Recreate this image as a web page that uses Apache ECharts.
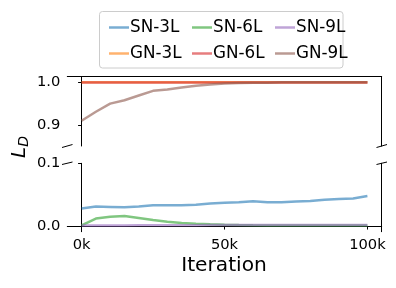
<!DOCTYPE html>
<html><head><meta charset="utf-8">
<script src="https://cdn.jsdelivr.net/npm/echarts@6/dist/echarts.min.js"></script>
<style>html,body{margin:0;padding:0;background:#fff}#c{width:396px;height:288px}</style>
</head><body><div id="c"></div>
<script>
// ---- data ----
const iterations = [0,5000,10000,15000,20000,25000,30000,35000,40000,45000,50000,55000,60000,65000,70000,75000,80000,85000,90000,95000,100000];
const sn3 = [0.028,0.031,0.0305,0.030,0.031,0.033,0.033,0.033,0.034,0.036,0.037,0.038,0.0395,0.038,0.038,0.039,0.040,0.042,0.043,0.044,0.048];
const sn6 = [0.001,0.012,0.015,0.016,0.013,0.0095,0.007,0.005,0.0035,0.0027,0.002,0.0015,0.0012,0.001,0.0009,0.0008,0.0008,0.0008,0.0008,0.0008,0.0008];
const sn9 = [0.0008,0.0009,0.001,0.001,0.0011,0.0012,0.0013,0.0014,0.0014,0.0015,0.0015,0.0015,0.0015,0.0015,0.0015,0.0015,0.0015,0.0015,0.0015,0.0015,0.0015];
const gn3 = [1.0,1.0,1.0,1.0,1.0,1.0,1.0,1.0,1.0,1.0,1.0,1.0,1.0,1.0,1.0,1.0,1.0,1.0,1.0,1.0,1.0];
const gn6 = [0.9995,0.9995,0.9995,0.9995,0.9995,0.9995,0.9995,0.9995,0.9995,0.9995,0.9995,0.9995,0.9995,0.9995,0.9995,0.9995,0.9995,0.9995,0.9995,0.9995,0.9995];
const gn9 = [0.910,0.931,0.950,0.958,0.969,0.980,0.983,0.988,0.992,0.995,0.997,0.998,0.999,0.999,1.0,1.0,1.0,1.0,1.0,1.0,1.0];
const xTicks = [0,50000,100000];
const topTicks = [0.9,1.0];
const botTicks = [0.0,0.1];

const FONT = 'DejaVu Sans';
const TICK_FS = 14.7;
const colors = {
  'SN-3L':'rgba(31,119,180,0.6)', 'GN-3L':'rgba(255,127,14,0.6)',
  'SN-6L':'rgba(44,160,44,0.6)',  'GN-6L':'rgba(214,39,40,0.6)',
  'SN-9L':'rgba(148,103,189,0.6)','GN-9L':'rgba(140,86,75,0.6)'
};
const G = {left:67.3, right:14.3, topT:76.7, hT:69.3, topB:163.3, hB:68.4};

function pairs(ys){ return iterations.map((x,i)=>[x,ys[i]]); }
function line(name, ys, gi){
  return {name, type:'line', data:pairs(ys), xAxisIndex:gi, yAxisIndex:gi*2,
    showSymbol:false, symbol:'none', color:colors[name], clip:true,
    lineStyle:{width:2.5, color:colors[name]}};
}
const axLine = {show:true, lineStyle:{color:'#000', width:1}};
const xBase = {type:'value', min:-5000, max:105000, splitLine:{show:false}};
const tickFmt = v => v.toFixed(1);

const chart = echarts.init(document.getElementById('c'), null, {renderer:'canvas'});
const legendCommon = {orient:'vertical', icon:'rect', itemWidth:20, itemHeight:2.5, itemGap:9,
  textStyle:{fontFamily:FONT, fontSize:16.8, color:'#000', padding:[0,0,0,-4]}, selectedMode:false};
chart.setOption({
  animation:false,
  backgroundColor:'#fff',
  grid:[
    {left:G.left, right:G.right, top:G.topT, height:G.hT},
    {left:G.left, right:G.right, top:G.topB, height:G.hB}
  ],
  xAxis:[
    Object.assign({gridIndex:0, position:'top', axisLine:axLine, axisTick:{show:false}, axisLabel:{show:false}}, xBase),
    Object.assign({gridIndex:1, position:'bottom', axisLine:axLine,
      axisTick:{show:true, length:3.5, lineStyle:{color:'#000'}, customValues:xTicks},
      axisLabel:{margin:6, fontFamily:FONT, fontSize:TICK_FS, color:'#000', customValues:xTicks, formatter:v=>(v/1000)+'k'}}, xBase)
  ],
  yAxis:[
    {type:'value', gridIndex:0, min:0.851, max:1.013, position:'left', axisLine:axLine, splitLine:{show:false},
      axisTick:{show:true, length:3.5, lineStyle:{color:'#000'}, customValues:topTicks},
      axisLabel:{margin:7, fontFamily:FONT, fontSize:TICK_FS, color:'#000', customValues:topTicks, formatter:tickFmt}},
    {type:'value', gridIndex:0, min:0.851, max:1.013, position:'right', axisLine:axLine, splitLine:{show:false},
      axisTick:{show:false}, axisLabel:{show:false}},
    {type:'value', gridIndex:1, min:-0.009, max:0.1, position:'left', axisLine:axLine, splitLine:{show:false},
      axisTick:{show:true, length:3.5, lineStyle:{color:'#000'}, customValues:botTicks},
      axisLabel:{margin:7, fontFamily:FONT, fontSize:TICK_FS, color:'#000', customValues:botTicks, formatter:tickFmt}},
    {type:'value', gridIndex:1, min:-0.009, max:0.1, position:'right', axisLine:axLine, splitLine:{show:false},
      axisTick:{show:false}, axisLabel:{show:false}}
  ],
  legend:[
    Object.assign({left:104, top:14, data:['SN-3L','GN-3L']}, legendCommon),
    Object.assign({left:187, top:14, data:['SN-6L','GN-6L']}, legendCommon),
    Object.assign({left:270, top:14, data:['SN-9L','GN-9L']}, legendCommon)
  ],
  series:[
    line('SN-3L', sn3, 1), line('GN-3L', gn3, 0),
    line('SN-6L', sn6, 1), line('GN-6L', gn6, 0),
    line('SN-9L', sn9, 1), line('GN-9L', gn9, 0)
  ],
  graphic:[
    {type:'rect', z:-1, shape:{x:99.5, y:11.5, width:243.5, height:56.5, r:3}, style:{fill:'#fff', stroke:'#cccccc', lineWidth:1}},
    {type:'line', shape:{x1:62, y1:147.5, x2:72.5, y2:144.5}, style:{stroke:'#000', lineWidth:1}},
    {type:'line', shape:{x1:376.5, y1:147.5, x2:387, y2:144.5}, style:{stroke:'#000', lineWidth:1}},
    {type:'line', shape:{x1:62, y1:164.5, x2:72.5, y2:162}, style:{stroke:'#000', lineWidth:1}},
    {type:'line', shape:{x1:376.5, y1:164.5, x2:387, y2:162}, style:{stroke:'#000', lineWidth:1}},
    {type:'text', x:224, y:266, style:{text:'Iteration', font:'20.2px "DejaVu Sans"', fill:'#000', align:'center', verticalAlign:'middle'}},
    {type:'text', x:20, y:147, rotation:Math.PI/2,
      style:{text:'{l|L}{d|D}', align:'center', verticalAlign:'middle',
        rich:{l:{fontFamily:FONT, fontStyle:'italic', fontSize:20, fill:'#000'},
              d:{fontFamily:FONT, fontStyle:'italic', fontSize:14, fill:'#000', padding:[8,0,0,0]}}}}
  ]
});
</script></body></html>
